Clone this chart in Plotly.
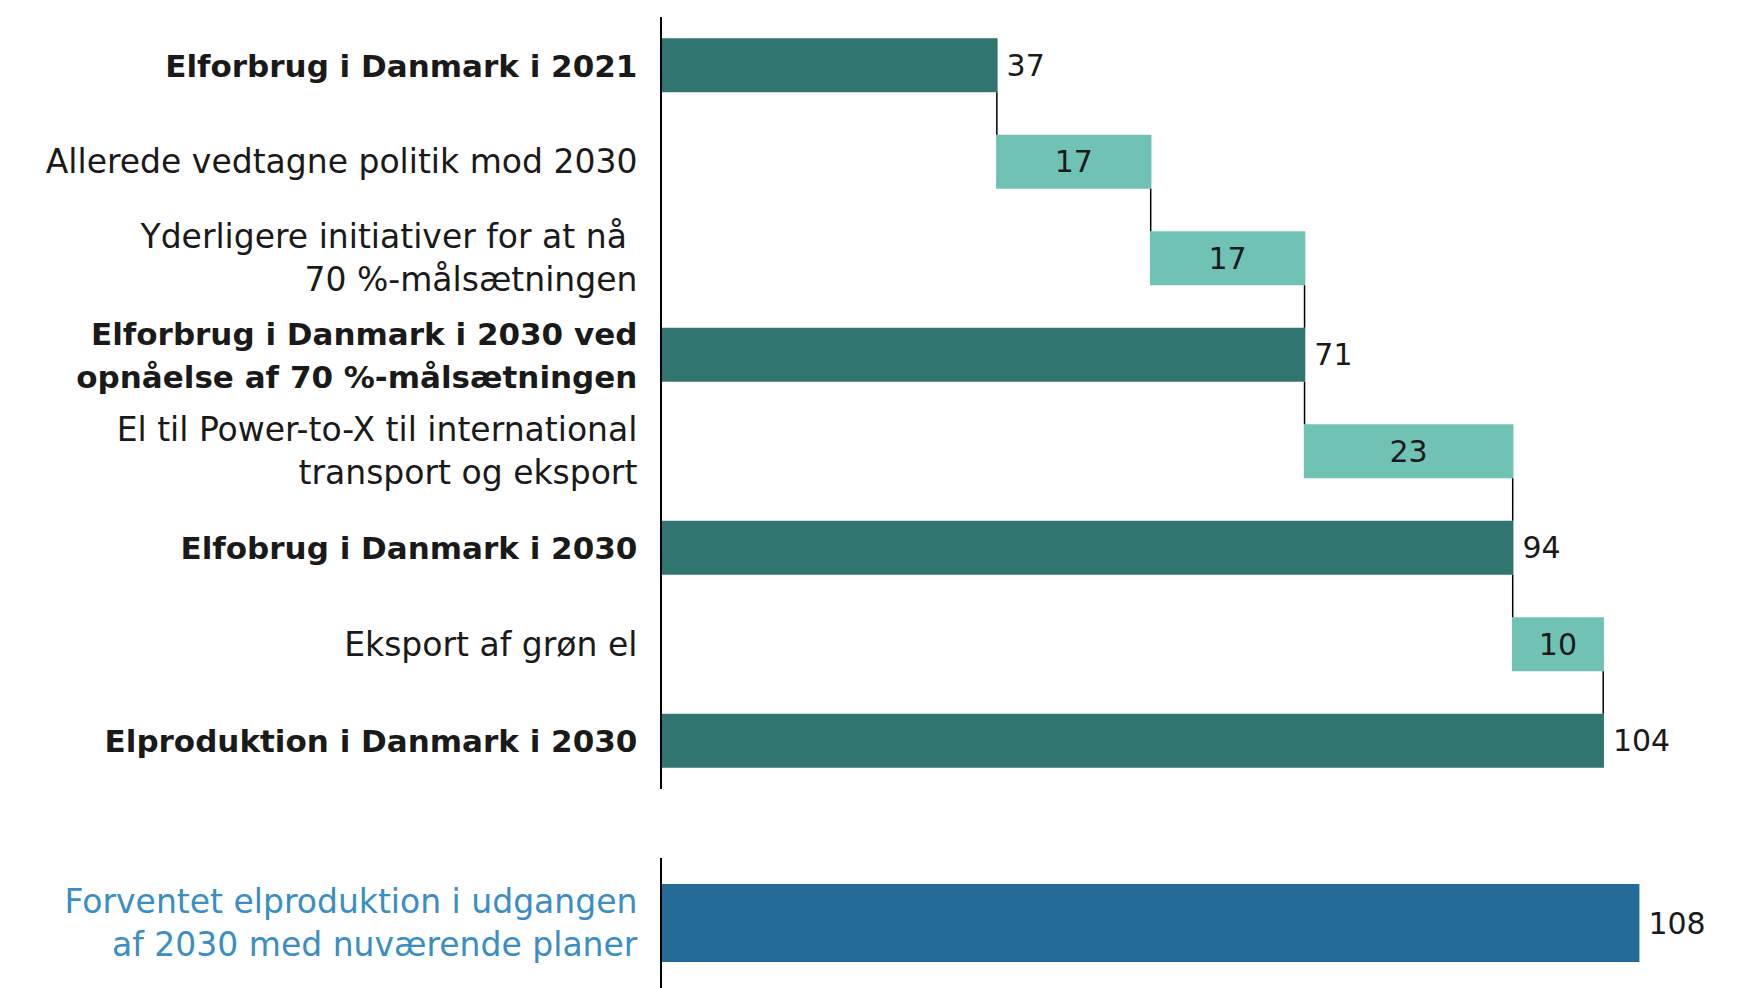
import plotly.graph_objects as go

# ---- data ----
categories = [
    "<b>Elforbrug i Danmark i 2021</b>",
    "Allerede vedtagne politik mod 2030",
    "Yderligere initiativer for at nå\u00a0<br>70 %-målsætningen",
    "<b>Elforbrug i Danmark i 2030 ved</b><br><b>opnåelse af 70 %-målsætningen</b>",
    "El til Power-to-X til international<br>transport og eksport",
    "<b>Elfobrug i Danmark i 2030</b>",
    "Eksport af grøn el",
    "<b>Elproduktion i Danmark i 2030</b>",
]
measures = ["absolute", "relative", "relative", "total", "relative", "total", "relative", "total"]
values = [37, 17, 17, 71, 23, 94, 10, 104]
value_labels = ["37", "17", "17", "71", "23", "94", "10", "104"]

planned_category = ["Forventet elproduktion i udgangen<br>af 2030 med nuværende planer"]
planned_values = [108]
planned_labels = ["108"]

# ---- style ----
DARK = "#317571"
LIGHT = "#70c2b4"
BLUE = "#246b98"
BLUE_TEXT = "#3a8ec4"
FONT = "DejaVu Sans, Verdana, sans-serif"
FS = 30          # value labels
FS_TICK = 33     # regular category labels
FS_BOLD = 31     # bold category labels


def style_label(lbl):
    # shrink bold lines a little so their width matches the wide original face
    return lbl.replace("<b>", f'<span style="font-size:{FS_BOLD}px"><b>').replace("</b>", "</b></span>")


OFF = 8  # default page body margin
W, H = 1743 - OFF, 988 - OFF


def px_y(y):
    return 1 - (y - OFF) / H


def px_x(x):
    return (x - OFF) / W


tick_text = [style_label(c) for c in categories]
textpos = ["inside" if m == "relative" else "outside" for m in measures]
templates = ["%{text}" if m == "relative" else "\u2009%{text}" for m in measures]

fig = go.Figure()
fig.add_trace(go.Waterfall(
    orientation="h",
    y=categories,
    x=values,
    measure=measures,
    text=value_labels,
    texttemplate=templates,
    textposition=textpos,
    insidetextanchor="middle",
    textangle=0,
    constraintext="none",
    textfont=dict(family=FONT, size=FS, color="#1a1a1a"),
    increasing=dict(marker=dict(color=LIGHT, line=dict(width=0))),
    totals=dict(marker=dict(color=DARK, line=dict(width=0))),
    connector=dict(mode="between", line=dict(color="black", width=1.5)),
    width=[0.56] * len(values),
    cliponaxis=False,
    xaxis="x", yaxis="y",
    hoverinfo="skip",
))

fig.add_trace(go.Bar(
    orientation="h",
    y=planned_category,
    x=planned_values,
    text=planned_labels,
    texttemplate="\u2009%{text}",
    textposition="outside",
    textangle=0,
    constraintext="none",
    textfont=dict(family=FONT, size=FS, color="#1a1a1a"),
    marker=dict(color=BLUE, line=dict(width=0)),
    width=0.6,
    cliponaxis=False,
    xaxis="x", yaxis="y2",
    hoverinfo="skip",
))

x0 = px_x(662)
fig.update_layout(
    width=W, height=H,
    margin=dict(l=0, r=0, t=0, b=0),
    paper_bgcolor="white", plot_bgcolor="white",
    showlegend=False,
    font=dict(family=FONT, size=FS, color="#1a1a1a"),
    xaxis=dict(domain=[x0, 1], range=[0, (1 - x0) * W / 9.05], visible=False,
               showgrid=False, zeroline=False),
    yaxis=dict(domain=[px_y(789), px_y(17)], anchor="x",
               type="category", categoryorder="array", categoryarray=categories,
               tickmode="array", tickvals=categories, ticktext=tick_text,
               range=[7.5, -0.5], showline=True, linecolor="black", linewidth=2,
               ticks="", ticklabelstandoff=16, showgrid=False, zeroline=False,
               tickfont=dict(family=FONT, size=FS_TICK, color="#1a1a1a")),
    yaxis2=dict(domain=[0, px_y(858)], anchor="x",
                type="category", range=[-0.5, 0.5],
                showline=True, linecolor="black", linewidth=2,
                ticks="", ticklabelstandoff=16, showgrid=False, zeroline=False,
                tickfont=dict(family=FONT, size=FS_TICK, color=BLUE_TEXT)),
)

fig.write_html("out.html")
